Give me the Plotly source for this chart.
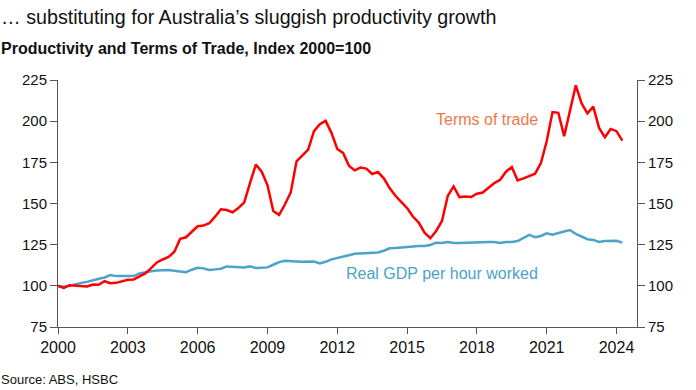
import plotly.graph_objects as go

start_year = 2000
quarters_per_year = 4

terms_of_trade = [
    100.0, 98.8, 100.4, 100.0, 100.0, 99.6, 100.8, 100.6,
    102.8, 101.6, 101.8, 102.6, 103.7, 103.9, 105.5, 107.5,
    110.8, 114.2, 116.0, 117.5, 120.7, 128.5, 129.5, 132.7,
    136.2, 136.6, 138.0, 142.0, 146.5, 146.0, 144.7, 147.2,
    150.6, 162.4, 173.6, 169.5, 161.2, 145.5, 143.1, 149.4,
    156.7, 175.6, 179.0, 182.7, 193.9, 198.2, 200.2, 192.9,
    183.1, 180.7, 173.0, 170.1, 171.8, 171.2, 167.9, 169.1,
    165.3, 159.4, 154.7, 151.2, 147.2, 142.1, 138.4, 132.3,
    128.9, 133.3, 139.4, 154.7, 160.4, 153.9, 154.3, 153.9,
    155.9, 156.7, 159.4, 162.4, 164.4, 169.3, 172.2, 164.0,
    165.3, 166.5, 168.1, 174.6, 187.8, 205.5, 205.1, 190.9,
    207.1, 221.8, 210.8, 204.7, 208.8, 195.9, 190.3, 195.3,
    193.9, 188.2,
]

gdp_per_hour = [
    100.0, 99.4, 100.0, 101.0, 101.8, 102.4, 103.5, 104.3,
    105.1, 106.5, 105.9, 105.9, 105.5, 105.9, 107.5, 108.3,
    108.9, 109.3, 109.6, 109.6, 109.1, 108.5, 108.3, 109.8,
    111.0, 110.6, 109.6, 110.0, 110.4, 111.8, 111.6, 111.8,
    111.2, 111.8, 110.8, 111.0, 111.2, 112.8, 114.4, 115.2,
    114.8, 114.8, 114.6, 114.8, 114.8, 113.6, 114.6, 116.1,
    116.8, 117.7, 118.6, 119.5, 119.7, 119.7, 120.1, 120.3,
    121.3, 122.8, 123.0, 123.4, 123.8, 123.8, 124.2, 124.2,
    124.8, 126.2, 126.0, 126.6, 126.0, 126.0, 126.2, 126.0,
    126.6, 126.8, 126.6, 126.6, 126.0, 126.6, 126.6, 127.2,
    128.9, 130.9, 129.5, 130.3, 131.9, 131.1, 132.1, 132.9,
    133.9, 131.5, 130.1, 128.3, 127.9, 126.6, 127.2, 127.4,
    127.4, 126.2,
]

x_tick_vals = [2000, 2003, 2006, 2009, 2012, 2015, 2018, 2021, 2024]
y_tick_vals = [75, 100, 125, 150, 175, 200, 225]

x_vals = [start_year + i / quarters_per_year for i in range(len(terms_of_trade))]

RED = "#FF0000"
BLUE = "#4BA3C7"
LABEL_RED = "#F0784A"
FONT = "Liberation Sans, Arial, sans-serif"
AXIS = "#555555"

W, H = 696, 390
ML, MR, MT, MB = 58, 59, 80, 63

fig = go.Figure()
fig.add_trace(go.Scatter(x=x_vals, y=gdp_per_hour, mode="lines",
                         line=dict(color=BLUE, width=2.5), name="Real GDP per hour worked"))
fig.add_trace(go.Scatter(x=x_vals, y=terms_of_trade, mode="lines",
                         line=dict(color=RED, width=2.5), name="Terms of trade"))
fig.add_trace(go.Scatter(x=x_vals, y=terms_of_trade, mode="lines", yaxis="y2",
                         line=dict(color="rgba(0,0,0,0)", width=0), hoverinfo="skip",
                         showlegend=False))

axis_common = dict(range=[75, 225], tickvals=y_tick_vals, showgrid=False, zeroline=False,
                   showline=True, linecolor=AXIS, linewidth=1, ticks="outside",
                   ticklen=7, tickcolor=AXIS, tickfont=dict(size=15, color="#111111", family=FONT))

fig.update_layout(
    width=W, height=H,
    margin=dict(l=ML, r=MR, t=MT, b=MB),
    paper_bgcolor="white", plot_bgcolor="white",
    showlegend=False,
    font=dict(family=FONT, color="#111111"),
    xaxis=dict(range=[2000, 2024.88], tickvals=x_tick_vals, showgrid=False, zeroline=False,
               showline=True, linecolor=AXIS, linewidth=1, ticks="outside", ticklen=6,
               tickcolor=AXIS, tickfont=dict(size=16, color="#111111", family=FONT)),
    yaxis=dict(**axis_common),
    yaxis2=dict(overlaying="y", side="right", **axis_common),
)

def px_to_paper_x(px):
    return (px - ML) / (W - ML - MR)

def px_to_paper_y(py):
    return (H - MB - py) / (H - MT - MB)

fig.add_annotation(text="… substituting for Australia’s sluggish productivity growth",
                   x=px_to_paper_x(-1), y=px_to_paper_y(17), xref="paper", yref="paper",
                   xanchor="left", yanchor="middle", showarrow=False,
                   font=dict(size=19.7, color="#111111", family=FONT))
fig.add_annotation(text="<b>Productivity and Terms of Trade, Index 2000=100</b>",
                   x=px_to_paper_x(-1), y=px_to_paper_y(48), xref="paper", yref="paper",
                   xanchor="left", yanchor="middle", showarrow=False,
                   font=dict(size=16, color="#111111", family=FONT))
fig.add_annotation(text="Source: ABS, HSBC",
                   x=px_to_paper_x(-1), y=px_to_paper_y(379), xref="paper", yref="paper",
                   xanchor="left", yanchor="middle", showarrow=False,
                   font=dict(size=13, color="#111111", family=FONT))
fig.add_annotation(text="Terms of trade", x=px_to_paper_x(487), y=px_to_paper_y(119),
                   xref="paper", yref="paper", xanchor="center", yanchor="middle",
                   showarrow=False, font=dict(size=16, color=LABEL_RED, family=FONT))
fig.add_annotation(text="Real GDP per hour worked", x=px_to_paper_x(442), y=px_to_paper_y(273),
                   xref="paper", yref="paper", xanchor="center", yanchor="middle",
                   showarrow=False, font=dict(size=16, color=BLUE, family=FONT))

fig.write_html("out.html", config={"displayModeBar": False},
               post_script="document.body.style.margin='0';")
